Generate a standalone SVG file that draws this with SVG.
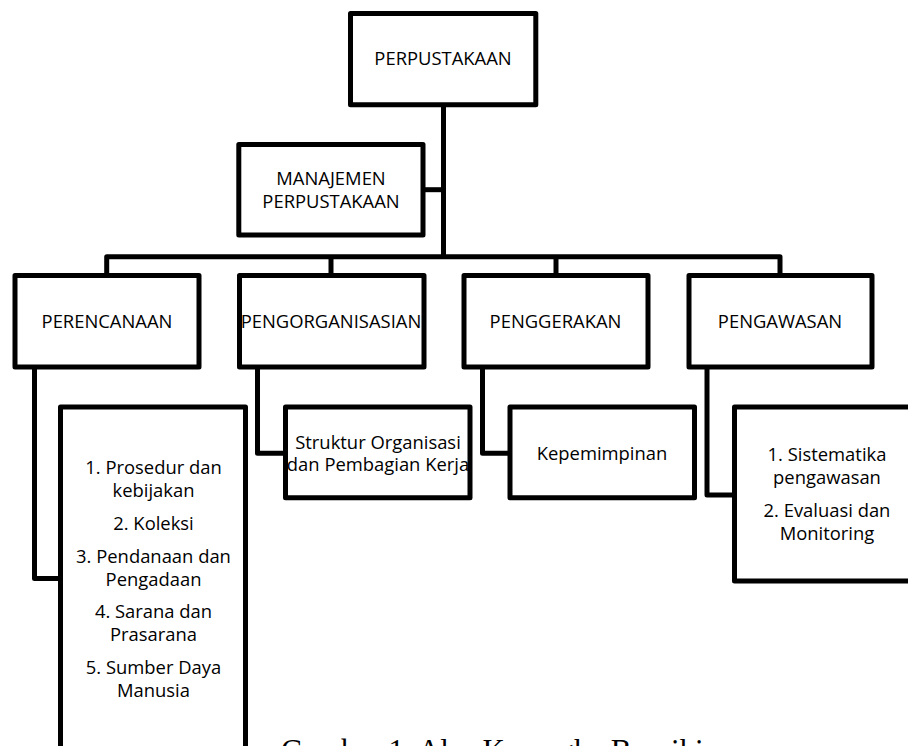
<svg xmlns="http://www.w3.org/2000/svg" width="908" height="746" viewBox="0 0 908 746">
<style>
.box{fill:#fff;stroke:#000;stroke-width:5;stroke-linejoin:round}
.ln{fill:none;stroke:#000;stroke-width:5;stroke-linejoin:round}
.t{font-family:"Open Sans","Noto Sans",sans-serif;font-size:18.4px;fill:#000;text-anchor:middle}
.cap{font-family:"Liberation Serif","Times New Roman",serif;font-size:31px;fill:#000}
</style>
<rect width="908" height="746" fill="#fff"/>
<g id="connectors">
<path class="ln" d="M443.5 104.8 V256.7"/>
<path class="ln" d="M423 189.7 H443.5"/>
<path class="ln" d="M106.7 275.5 V256.7 H780 V275.5"/>
<path class="ln" d="M331 256.7 V275.5"/>
<path class="ln" d="M556 256.7 V275.5"/>
<path class="ln" d="M34.5 367 V578.5 H60.5"/>
<path class="ln" d="M257.5 367 V453.3 H285.5"/>
<path class="ln" d="M482.5 367 V453.3 H510"/>
<path class="ln" d="M707 367 V495 H734.5"/>
</g>
<g id="perpustakaan">
<rect class="box" x="350.5" y="13.5" width="185.3" height="91.3"/>
<text class="t" x="443" y="65">PERPUSTAKAAN</text>
</g>
<g id="manajemen">
<rect class="box" x="238.8" y="144.5" width="184.2" height="90.5"/>
<text class="t" x="331" y="185">MANAJEMEN</text>
<text class="t" x="331" y="208">PERPUSTAKAAN</text>
</g>
<g id="perencanaan">
<rect class="box" x="15" y="275.5" width="184" height="91.5"/>
<text class="t" x="107" y="328">PERENCANAAN</text>
</g>
<g id="pengorganisasian">
<rect class="box" x="239.5" y="275.5" width="184.5" height="91.5"/>
<text class="t" x="331" y="328">PENGORGANISASIAN</text>
</g>
<g id="penggerakan">
<rect class="box" x="464" y="275.5" width="184" height="91.5"/>
<text class="t" x="555.5" y="328">PENGGERAKAN</text>
</g>
<g id="pengawasan">
<rect class="box" x="689" y="275.5" width="183" height="91.5"/>
<text class="t" x="780" y="328">PENGAWASAN</text>
</g>
<g id="perencanaan-list">
<rect class="box" x="60.5" y="407" width="185" height="360"/>
<text class="t" x="153.5" y="474">1. Prosedur dan</text>
<text class="t" x="153.5" y="497">kebijakan</text>
<text class="t" x="153.5" y="530">2. Koleksi</text>
<text class="t" x="153.5" y="563">3. Pendanaan dan</text>
<text class="t" x="153.5" y="586">Pengadaan</text>
<text class="t" x="153.5" y="618">4. Sarana dan</text>
<text class="t" x="153.5" y="641">Prasarana</text>
<text class="t" x="153.5" y="674">5. Sumber Daya</text>
<text class="t" x="153.5" y="697">Manusia</text>
</g>
<g id="struktur">
<rect class="box" x="285.5" y="407" width="184.5" height="90.8"/>
<text class="t" x="378" y="448.5">Struktur Organisasi</text>
<text class="t" x="378" y="471">dan Pembagian Kerja</text>
</g>
<g id="kepemimpinan">
<rect class="box" x="510" y="407" width="184.5" height="90.8"/>
<text class="t" x="602" y="460">Kepemimpinan</text>
</g>
<g id="sistematika">
<rect class="box" x="734.5" y="407" width="184.5" height="174"/>
<text class="t" x="827" y="460.5">1. Sistematika</text>
<text class="t" x="827" y="483.5">pengawasan</text>
<text class="t" x="827" y="516.5">2. Evaluasi dan</text>
<text class="t" x="827" y="539.5">Monitoring</text>
</g>
<text class="cap" x="281" y="760.5">Gambar 1.  Alur Kerangka Berpikir</text>
</svg>
